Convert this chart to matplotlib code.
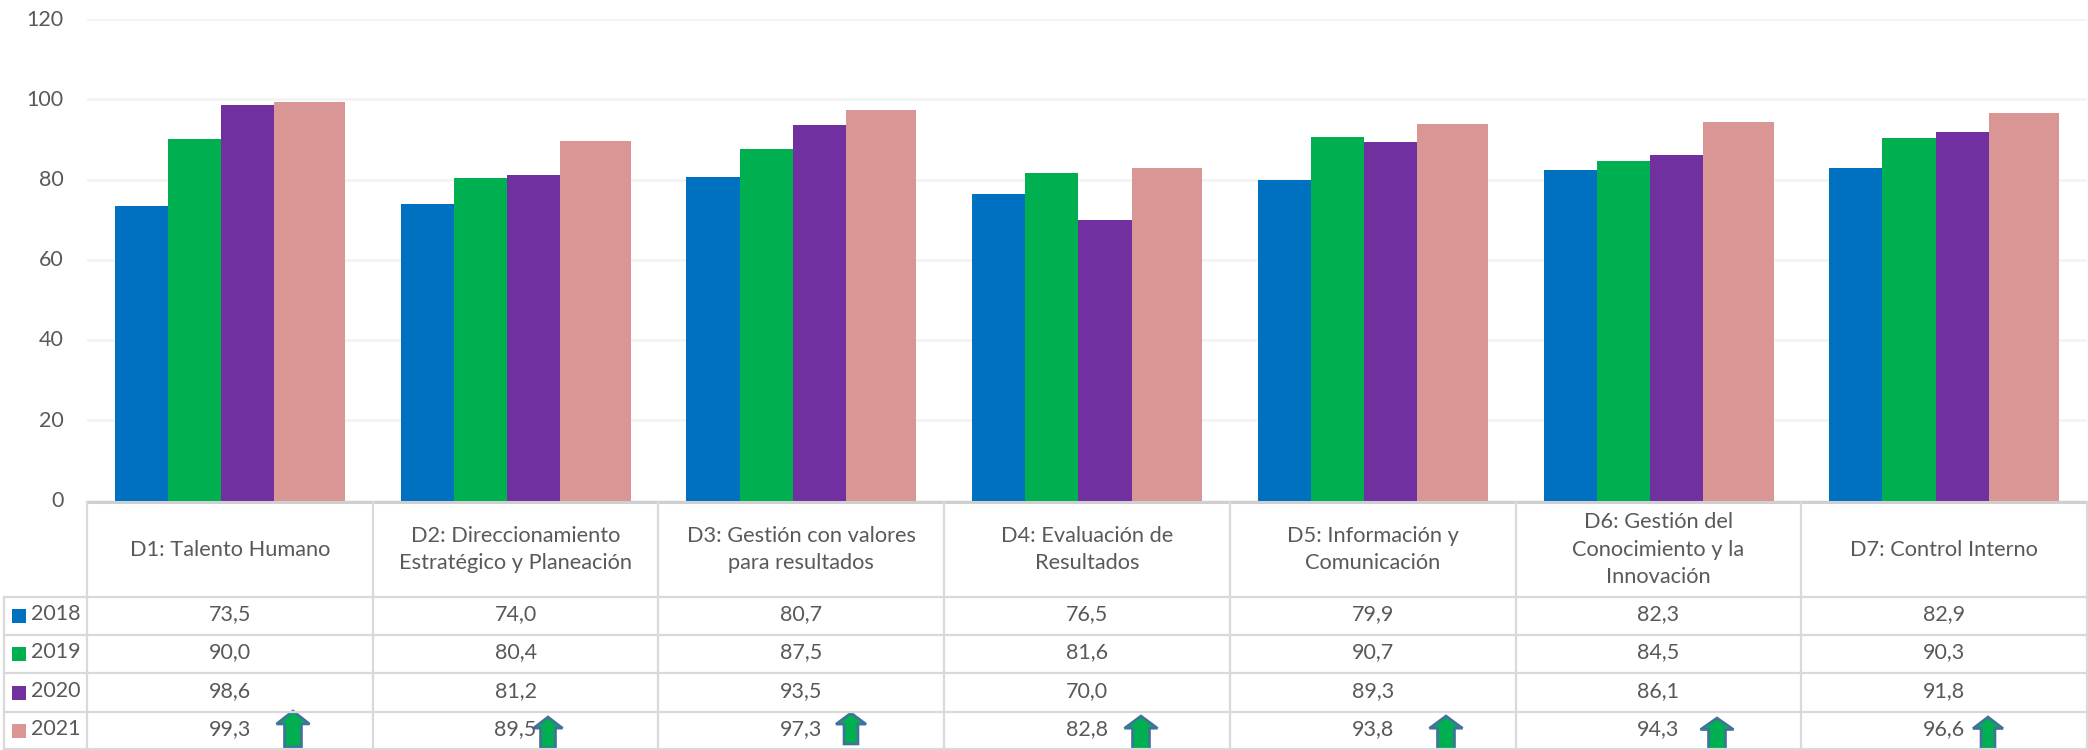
import matplotlib
matplotlib.use('Agg')
import matplotlib.pyplot as plt
from matplotlib.patches import Polygon, Rectangle
from matplotlib.transforms import ScaledTranslation

plt.rcParams['font.family'] = ['Lato', 'DejaVu Sans']

categories = ['D1: Talento Humano',
              'D2: Direccionamiento\nEstratégico y Planeación',
              'D3: Gestión con valores\npara resultados',
              'D4: Evaluación de\nResultados',
              'D5: Información y\nComunicación',
              'D6: Gestión del\nConocimiento y la\nInnovación',
              'D7: Control Interno']
years = ['2018', '2019', '2020', '2021']
v2018 = [73.5, 74.0, 80.7, 76.5, 79.9, 82.3, 82.9]
v2019 = [90.0, 80.4, 87.5, 81.6, 90.7, 84.5, 90.3]
v2020 = [98.6, 81.2, 93.5, 70.0, 89.3, 86.1, 91.8]
v2021 = [99.3, 89.5, 97.3, 82.8, 93.8, 94.3, 96.6]
yticks = [0, 20, 40, 60, 80, 100, 120]
colors = ['#0070C0', '#00B050', '#7030A0', '#D99694']
series = [v2018, v2019, v2020, v2021]

W, H = 2088, 750
grey = '#595959'
line = '#D9D9D9'

fig = plt.figure(figsize=(W / 100, H / 100), dpi=100)

# chart part, pixel box 87..2087 x 19..500.5
ax = fig.add_axes([87 / W, 1 - 500.5 / H, 2000 / W, 481.5 / H])
widths = [0.186, 0.186, 0.186, 0.247]
start = 0.098
for i in range(7):
    x = i + start
    for s, w, c in zip(series, widths, colors):
        ax.bar(x, s[i], width=w, align='edge', color=c, zorder=3)
        x += w
ax.set_xlim(0, 7)
ax.set_ylim(0, 120)
ax.set_yticks(yticks)
ax.set_xticks([])
ax.tick_params(axis='y', length=0, labelsize=15.5, labelcolor=grey, pad=17)
ax.grid(axis='y', color='#F2F2F2', lw=1.8, zorder=0)
for sp in ax.spines.values():
    sp.set_visible(False)
for lab in ax.get_yticklabels():
    lab.set_transform(lab.get_transform() + ScaledTranslation(0, 0.015, fig.dpi_scale_trans))

# data table under the chart, drawn in pixels
tb = fig.add_axes([0, 0, 1, 1])
tb.set_xlim(0, W)
tb.set_ylim(H, 0)
tb.axis('off')
tb.patch.set_alpha(0)

cols = [87 + i * 2000 / 7 for i in range(8)]
rows = [597, 635, 673, 712, 749]
top = 502

tb.plot([87, 2087], [top, top], color='#CFCFCF', lw=2.2)
for y in rows:
    tb.plot([4, 2087], [y, y], color=line, lw=1.6)
for x in cols:
    tb.plot([x, x], [top, 750], color=line, lw=1.6)
tb.plot([4, 4], [rows[0], 750], color=line, lw=1.6)

for i, c in enumerate(categories):
    tb.text((cols[i] + cols[i + 1]) / 2, (top + rows[0]) / 2, c, ha='center', va='center',
            fontsize=15.7, color=grey, linespacing=1.45)

for r, (yr, s, c) in enumerate(zip(years, series, colors)):
    yc = (rows[r] + rows[r + 1]) / 2
    tb.add_patch(Rectangle((12, yc - 7), 14, 14, color=c, lw=0))
    tb.text(31, yc - 1.5, yr, ha='left', va='center', fontsize=15.5, color=grey)
    for i, v in enumerate(s):
        tb.text((cols[i] + cols[i + 1]) / 2, yc - 1.5, f'{v:.1f}'.replace('.', ','), ha='center', va='center',
                fontsize=15.5, color=grey)

# arrows in the 2021 row: centre x, top y, bottom y, half head width, half shaft width
arrow_x = [293, 548, 851, 1141, 1446, 1717, 1988]
arrow_top = [711, 717, 713, 716, 716, 718, 717]
arrow_bot = [747, 748, 744, 750, 750, 750, 749]
arrow_hw = [16.5, 14.5, 15, 16.5, 16.5, 16.5, 15]
arrow_sw = [8.5, 7.5, 7, 8.5, 8.5, 8.5, 7]
for xc, t, b, hw, sw in zip(arrow_x, arrow_top, arrow_bot, arrow_hw, arrow_sw):
    head = t + (b - t) * 0.36
    pts = [(xc, t), (xc + hw, head), (xc + sw, head), (xc + sw, b),
           (xc - sw, b), (xc - sw, head), (xc - hw, head)]
    tb.add_patch(Polygon(pts, closed=True, facecolor='#00B050', edgecolor='#41719C', lw=1.9, clip_on=False))

fig.savefig('out.png', dpi=100, facecolor='white')
